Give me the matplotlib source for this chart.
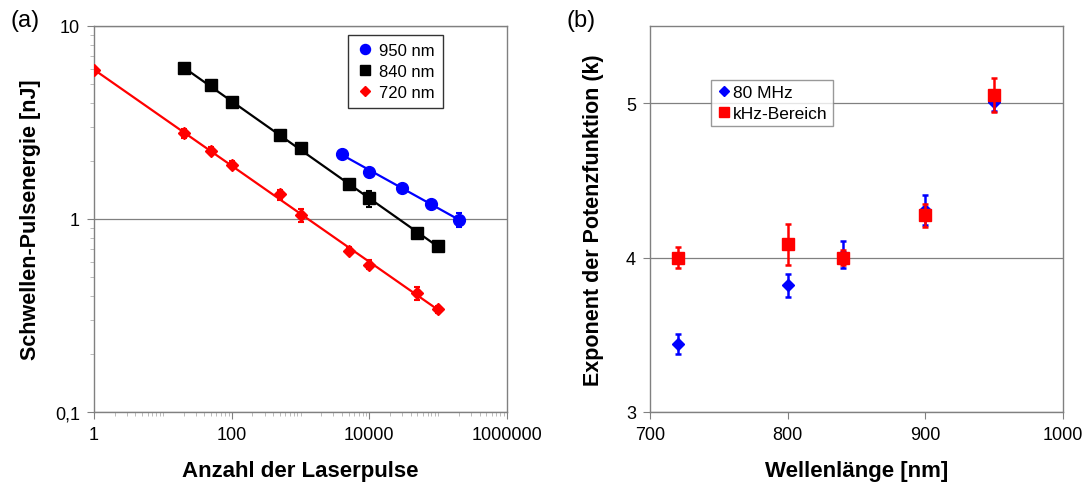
import numpy as np
import matplotlib
matplotlib.use("Agg")
import matplotlib.pyplot as plt
from matplotlib.lines import Line2D
from matplotlib.ticker import LogLocator, FuncFormatter, NullFormatter, FixedLocator

plt.rcParams['font.family'] = ['Liberation Sans', 'DejaVu Sans']

# (a) Schwellen-Pulsenergie gegen Anzahl der Laserpulse
pulse_950 = [4000, 10000, 30000, 80000, 200000]
energy_950 = [2.18, 1.76, 1.44, 1.20, 0.99]
err_950 = [0.05, 0.05, 0.04, 0.04, 0.08]

pulse_840 = [20, 50, 100, 500, 1000, 5000, 10000, 50000, 100000]
energy_840 = [6.04, 4.93, 4.02, 2.71, 2.34, 1.51, 1.28, 0.846, 0.722]
err_840 = [0.1, 0.08, 0.06, 0.05, 0.05, 0.05, 0.12, 0.02, 0.02]

pulse_720 = [1, 20, 50, 100, 500, 1000, 5000, 10000, 50000, 100000]
energy_720 = [5.9, 2.78, 2.26, 1.91, 1.34, 1.05, 0.685, 0.58, 0.412, 0.34]
err_720 = [0.12, 0.15, 0.1, 0.08, 0.08, 0.08, 0.03, 0.03, 0.03, 0.015]

# (b) Exponent gegen Wellenlaenge
wl = [720, 800, 840, 900, 950]
k_80mhz = [3.44, 3.82, 4.02, 4.31, 5.01]
k_80mhz_err = [0.066, 0.074, 0.09, 0.096, 0.06]
k_khz = [4.0, 4.086, 4.0, 4.275, 5.054]
k_khz_err = [0.069, 0.131, 0.05, 0.075, 0.11]

GRAY = '#808080'

fig = plt.figure(figsize=(10.9, 4.89), dpi=100)
ax1 = fig.add_axes([94/1090, 1-413/489, 413/1090, 386/489])
ax2 = fig.add_axes([650/1090, 1-413/489, 413/1090, 386/489])

# --- Panel (a)
series = [
    (pulse_950, energy_950, err_950, 'blue', 'o', 8.5, '950 nm'),
    (pulse_840, energy_840, err_840, 'black', 's', 8, '840 nm'),
    (pulse_720, energy_720, err_720, 'red', 'D', 6.5, '720 nm'),
]
handles1 = []
for x, y, e, col, mk, ms, lab in series:
    x = np.array(x, dtype=float)
    y = np.array(y, dtype=float)
    # Potenzfit fuer die Linie
    p = np.polyfit(np.log10(x), np.log10(y), 1)
    xf = np.logspace(np.log10(x.min()), np.log10(x.max()), 50)
    ax1.plot(xf, 10**np.polyval(p, np.log10(xf)), color=col, lw=1.6, zorder=2)
    ax1.errorbar(x, y, yerr=e, fmt=mk, color=col, ms=ms, ecolor=col,
                 elinewidth=1.5, capsize=2.5, capthick=1.5, zorder=3)
    handles1.append(Line2D([], [], ls='none', marker=mk, color=col, ms=ms * 0.85, label=lab))

ax1.set_xscale('log')
ax1.set_yscale('log')
ax1.set_xlim(1, 1e6)
ax1.set_ylim(0.1, 10)
ax1.xaxis.set_major_locator(FixedLocator([1, 100, 1e4, 1e6]))
ax1.xaxis.set_major_formatter(FuncFormatter(lambda v, pos: f"{v:.0f}"))
ax1.xaxis.set_minor_locator(LogLocator(base=10, subs=np.arange(1, 10), numticks=20))
ax1.xaxis.set_minor_formatter(NullFormatter())
ax1.yaxis.set_major_locator(FixedLocator([0.1, 1, 10]))
ax1.yaxis.set_major_formatter(FuncFormatter(lambda v, pos: f"{v:g}".replace('.', ',')))
ax1.yaxis.set_minor_locator(LogLocator(base=10, subs=np.arange(2, 10), numticks=20))
ax1.yaxis.set_minor_formatter(NullFormatter())
ax1.grid(True, axis='y', which='major', color=GRAY, lw=0.9)
ax1.set_xlabel('Anzahl der Laserpulse', fontsize=16, fontweight='bold', labelpad=12)
ax1.set_ylabel('Schwellen-Pulsenergie [nJ]', fontsize=15.5, fontweight='bold', labelpad=10)
leg1 = ax1.legend(handles=handles1, loc='upper left', bbox_to_anchor=(254/413, 1-9/386),
                  borderaxespad=0, fontsize=12, frameon=True, fancybox=False,
                  edgecolor='black', handletextpad=0.35, borderpad=0.5,
                  labelspacing=0.35, handlelength=1.0)
leg1.get_frame().set_linewidth(1.0)

# --- Panel (b)
ax2.errorbar(wl, k_80mhz, yerr=k_80mhz_err, fmt='D', color='blue', ms=6.5,
             elinewidth=1.8, capsize=2.5, capthick=1.8, zorder=3)
ax2.errorbar(wl, k_khz, yerr=k_khz_err, fmt='s', color='red', ms=8,
             elinewidth=1.8, capsize=2.5, capthick=1.8, zorder=4)
handles2 = [
    Line2D([], [], ls='none', marker='D', color='blue', ms=5.5, label='80 MHz'),
    Line2D([], [], ls='none', marker='s', color='red', ms=7, label='kHz-Bereich'),
]
ax2.set_xlim(700, 1000)
ax2.set_ylim(3, 5.5)
ax2.set_xticks([700, 800, 900, 1000])
ax2.set_yticks([3, 4, 5])
ax2.grid(True, axis='y', color=GRAY, lw=0.9)
ax2.set_xlabel('Wellenlänge [nm]', fontsize=16, fontweight='bold', labelpad=12)
ax2.set_ylabel('Exponent der Potenzfunktion (k)', fontsize=15.5, fontweight='bold', labelpad=16)
leg2 = ax2.legend(handles=handles2, loc='upper left', bbox_to_anchor=(61/413, 1-54/386),
                  borderaxespad=0, fontsize=12.5, frameon=True, fancybox=False,
                  edgecolor=GRAY, handletextpad=0.05, borderpad=0.3,
                  labelspacing=0.3, handlelength=0.9)

for ax in (ax1, ax2):
    ax.set_axisbelow(True)
    for s in ax.spines.values():
        s.set_color(GRAY)
        s.set_linewidth(1.0)
    ax.tick_params(which='major', direction='out', length=5, color=GRAY, labelsize=13, pad=5)
    ax.tick_params(which='minor', direction='out', length=3, color='#b0b0b0')

fig.text(10/1090, 1-21/489, '(a)', fontsize=17, va='center', ha='left')
fig.text(567/1090, 1-21/489, '(b)', fontsize=17, va='center', ha='left')

fig.savefig('out.png', dpi=100)
